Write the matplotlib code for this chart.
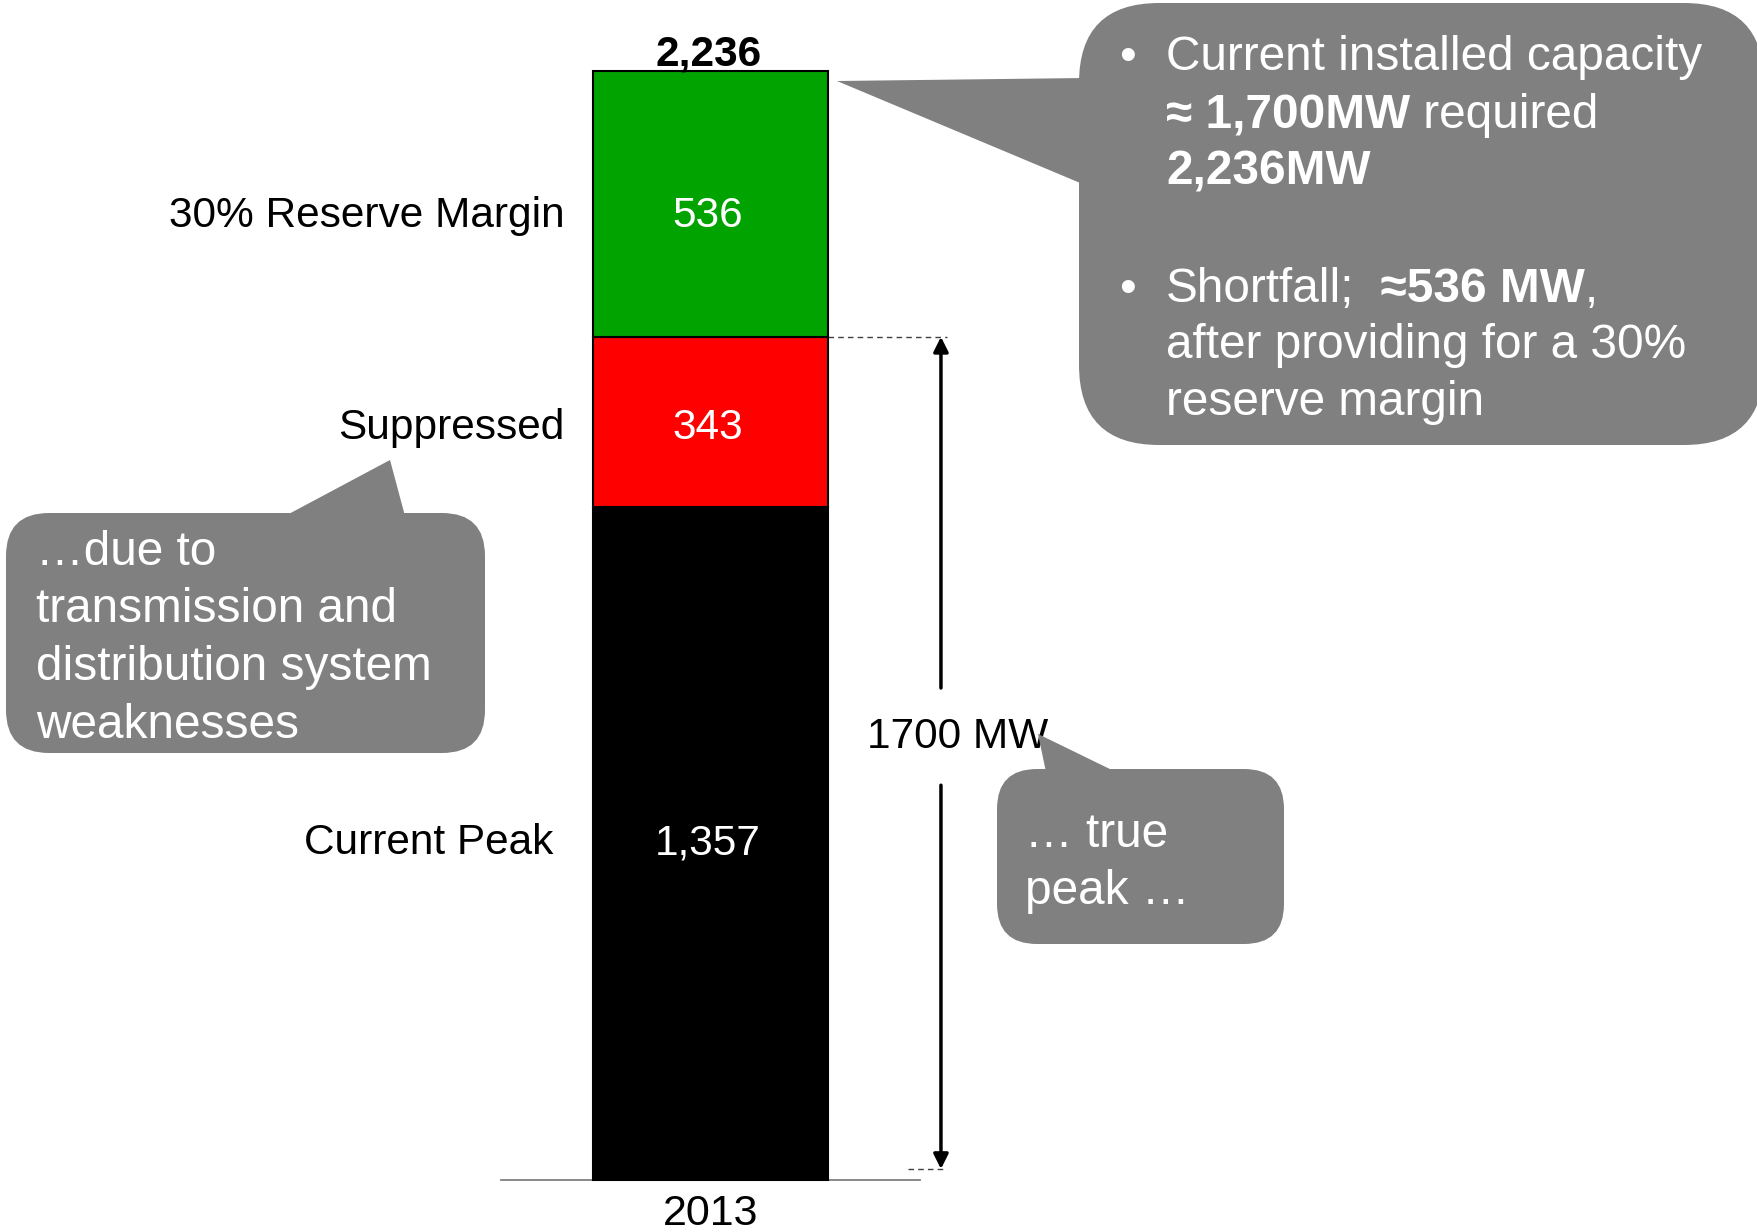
import matplotlib
matplotlib.use("Agg")
import matplotlib.pyplot as plt
import matplotlib.transforms as mtransforms
from matplotlib.patches import FancyBboxPatch, Polygon
import numpy as np

plt.rcParams["font.family"] = ["Liberation Sans", "DejaVu Sans"]

# data
years = ["2013"]
segments = ["Current Peak", "Suppressed", "30% Reserve Margin"]
values = [1357, 343, 536]
seg_colors = ["#000000", "#FF0000", "#00A300"]
total = sum(values)
true_peak = values[0] + values[1]

# label nudges (pixels below segment centre) and left gaps
label_dy = {"Current Peak": -11, "Suppressed": -17, "30% Reserve Margin": -23}
label_dx = {"Current Peak": -40, "Suppressed": -29, "30% Reserve Margin": -29}

W, H = 1758, 1232
fig = plt.figure(figsize=(W / 100, H / 100), dpi=100)

# bar axes: baseline at y=1180 px, top of bar at 71 px
ax = fig.add_axes([501 / W, 1 - 1180 / H, 419 / W, 1109 / H])
ax.set_xlim(-1, 1)
ax.set_ylim(0, total)
bw = 1.117
x = np.arange(len(years))

bottom = np.zeros(len(years))
for name, v, c in zip(segments, values, seg_colors):
    ax.bar(x, [v], bottom=bottom, width=bw, color=c, edgecolor="black",
           linewidth=1.5, clip_on=False, zorder=3)
    mid = bottom[0] + v / 2
    ax.annotate(f"{v:,}", xy=(0, mid), xytext=(-3, label_dy[name]), textcoords="offset pixels",
                ha="center", va="baseline", fontsize=30.5, color="white", zorder=4)
    ax.annotate(name, xy=(-bw / 2, mid), xytext=(label_dx[name], label_dy[name]),
                textcoords="offset pixels", ha="right", va="baseline", fontsize=30.5,
                color="black", annotation_clip=False)
    bottom = bottom + v

ax.annotate(f"{total:,}", xy=(0, total), xytext=(-2, 6), textcoords="offset pixels",
            ha="center", va="baseline", fontsize=30.5, fontweight="bold",
            annotation_clip=False)

for s in ["top", "left", "right"]:
    ax.spines[s].set_visible(False)
ax.spines["bottom"].set_color("#808080")
ax.spines["bottom"].set_linewidth(1.3)
ax.set_yticks([])
ax.set_xticks(x)
ax.set_xticklabels(years, fontsize=31)
ax.tick_params(axis="x", length=0, pad=10)
ax.patch.set_visible(False)

# 1700 MW dimension arrow
arr_x = 1.10
lift = mtransforms.offset_copy(ax.transData, fig=fig, y=11, units="dots")
ax.plot([bw / 2, 1.13], [true_peak, true_peak], ls=(0, (4, 3)), color="#404040",
        lw=1.0, clip_on=False)
ax.plot([0.943, 1.13], [0, 0], ls=(0, (4, 3)), color="#404040", lw=1.0,
        clip_on=False, transform=lift)
label_y = 893
ap = dict(arrowstyle="-|>", lw=2.5, color="black", mutation_scale=22,
          shrinkA=0, shrinkB=0)
ax.annotate("", xy=(arr_x, true_peak), xytext=(arr_x, 992), arrowprops=ap,
            annotation_clip=False)
ax.annotate("", xy=(arr_x, 0), xycoords=lift, xytext=(arr_x, 796),
            textcoords="data", arrowprops=ap, annotation_clip=False)
ax.annotate(f"{true_peak} MW", xy=(arr_x, label_y), xytext=(-74, 0),
            textcoords="offset pixels", ha="left", va="center", fontsize=30.5,
            annotation_clip=False)

# overlay in pixel coordinates for the callouts
ov = fig.add_axes([0, 0, 1, 1], zorder=5)
ov.set_xlim(0, W)
ov.set_ylim(H, 0)
ov.axis("off")
gray = "#808080"


def callout(x0, y0, x1, y1, r, tail):
    ov.add_patch(FancyBboxPatch((x0, y0), x1 - x0, y1 - y0,
                                boxstyle=f"round,pad=0,rounding_size={r}",
                                fc=gray, ec="none"))
    ov.add_patch(Polygon(tail, closed=True, fc=gray, ec="none"))


callout(1079, 3, 1764, 445, 80, [(1085, 78), (837, 81), (1085, 185)])
callout(6, 513, 485, 753, 43, [(285, 516), (390, 460), (405, 516)])
callout(997, 769, 1284, 944, 40, [(1046, 772), (1038, 734), (1116, 772)])

renderer = fig.canvas.get_renderer()
fs = 34.4


def rich(xs, y, parts):
    for s, w in parts:
        t = ov.text(xs, y, s, fontsize=fs, fontweight=w, color="white",
                    ha="left", va="baseline")
        xs += t.get_window_extent(renderer).width


lines_right = [
    (70, True, [("Current installed capacity", "normal")]),
    (128, False, [("≈ 1,700MW", "bold"), (" required", "normal")]),
    (185, False, [("2,236MW", "bold")]),
    (302, True, [("Shortfall;", "normal"), ("  ≈536 MW", "bold"), (",", "normal")]),
    (358, False, [("after providing for a 30%", "normal")]),
    (415, False, [("reserve margin", "normal")]),
]
for y, bullet, parts in lines_right:
    if bullet:
        ov.text(1119, y, "•", fontsize=fs, color="white", ha="left", va="baseline")
    rich(1166, y, parts)

left_lines = ["…due to", "transmission and", "distribution system", "weaknesses"]
for i, s in enumerate(left_lines):
    ov.text(36, 565 + i * 57.5, s, fontsize=fs, color="white", ha="left", va="baseline")

for i, s in enumerate(["… true", "peak …"]):
    ov.text(1025, 847 + i * 57, s, fontsize=fs, color="white", ha="left", va="baseline")

fig.savefig("out.png", dpi=100)
